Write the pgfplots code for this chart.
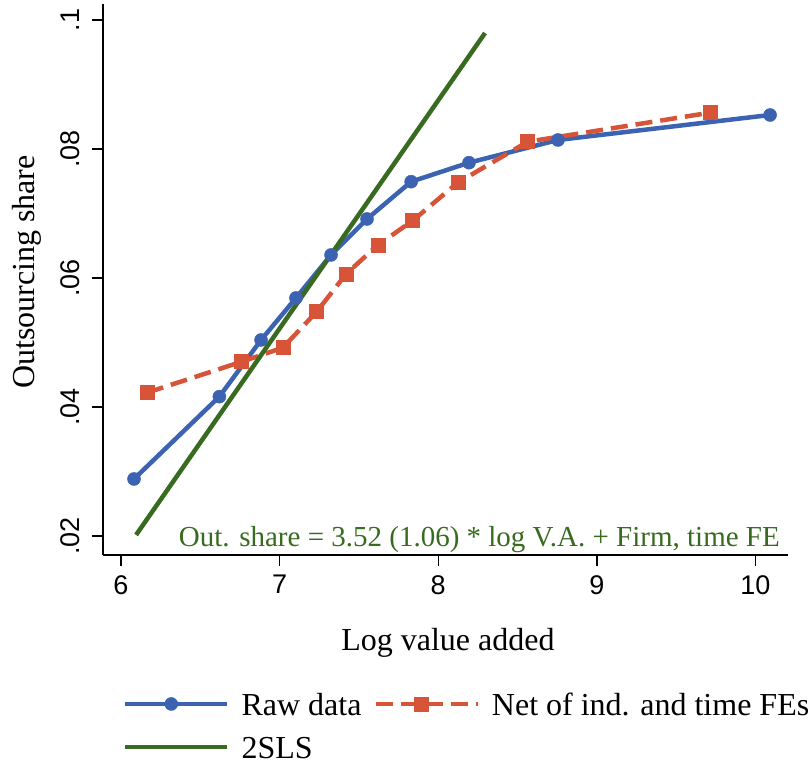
\documentclass[border=0pt]{standalone}
\usepackage{pgfplots}
\pgfplotsset{compat=1.18}
\usepackage{fontspec}
\setmainfont{Liberation Serif}
\newfontfamily\ticksans{Liberation Sans}
\definecolor{rawblue}{HTML}{3B63B1}
\definecolor{netred}{HTML}{D75438}
\definecolor{slsgreen}{HTML}{386B1F}

\begin{document}
\begin{tikzpicture}
\useasboundingbox (-103bp,-210bp) rectangle (708bp,555bp);
\begin{axis}[
  at={(0,0)}, anchor=south west,
  scale only axis, width=685bp, height=551bp,
  xmin=5.8865, xmax=10.205, ymin=0.01705, ymax=0.10248,
  axis lines=left,
  axis line style={-, line width=1.3bp, black},
  xtick={6,7,8,9,10},
  ytick={0.02,0.04,0.06,0.08,0.1},
  yticklabels={.02,.04,.06,.08,.1},
  tick align=outside, major tick length=11bp,
  every tick/.style={line width=1.3bp, black},
  /pgf/number format/assume math mode=true,
  ticklabel style={font=\ticksans\fontsize{27bp}{27bp}\selectfont},
  xticklabel style={anchor=north, inner sep=0pt},
  xticklabel shift=9bp,
  yticklabel style={rotate=90, anchor=south, inner sep=0pt},
  yticklabel shift=12bp,
  xlabel={Log value added},
  xlabel style={at={(axis description cs:0.5036,-0.1742)}, anchor=base, inner sep=0pt,
    font=\fontsize{32bp}{38bp}\selectfont},
  ylabel={Outsourcing share},
  ylabel style={at={(axis description cs:-0.0993,0.5136)}, rotate=0, anchor=base, inner sep=0pt,
    font=\fontsize{32bp}{38bp}\selectfont},
  legend columns=2,
  legend cell align=left,
  legend style={draw=none, fill=none, inner sep=0pt, outer sep=0pt,
    column sep=12bp, row sep=19bp,
    at={(axis description cs:0.0292,-0.2486)}, anchor=north west,
    font=\fontsize{32bp}{38bp}\selectfont,
    nodes={inner sep=0pt, text height=24bp, text depth=0bp}},
  legend image code/.code={%
    \draw[mark repeat=2, mark phase=2, #1] plot coordinates {(0bp,0bp) (46bp,0bp) (92bp,0bp)};
    \path (0bp,0bp) -- (102bp,0bp);},
  clip=false,
]
% binned means of the raw outsourcing share
\addplot[rawblue, line width=4.5bp, mark=*, mark size=6.5bp,
  mark options={solid, line width=0.5bp}] coordinates {
  (6.082,0.02884) (6.620,0.04160) (6.883,0.05039) (7.103,0.05690)
  (7.324,0.06357) (7.551,0.06915) (7.829,0.07493) (8.194,0.07788)
  (8.755,0.08140) (10.092,0.08527)};
\addlegendentry{Raw data}
% binned means after netting out industry and time fixed effects
\addplot[netred, line width=4.5bp, dash pattern=on 17bp off 8bp, mark=square*, mark size=7bp,
  mark options={solid, line width=0.5bp}] coordinates {
  (6.164,0.04222) (6.761,0.04702) (7.020,0.04919) (7.234,0.05478)
  (7.419,0.06062) (7.620,0.06512) (7.839,0.06889) (8.123,0.07478)
  (8.564,0.08113) (9.714,0.08563)};
\addlegendentry{Net of ind. and time FEs}
% 2SLS fitted line
\addplot[slsgreen, line width=4.5bp] coordinates {(6.095,0.02016) (8.295,0.09798)};
\addlegendentry{2SLS}
\node[anchor=base east, inner sep=0pt, text=slsgreen, font=\fontsize{29bp}{34bp}\selectfont]
  at (axis description cs:0.9883,0.01452)
  {Out. share = 3.52 (1.06) * log V.A. + Firm, time FE};
\end{axis}
\end{tikzpicture}
\end{document}
